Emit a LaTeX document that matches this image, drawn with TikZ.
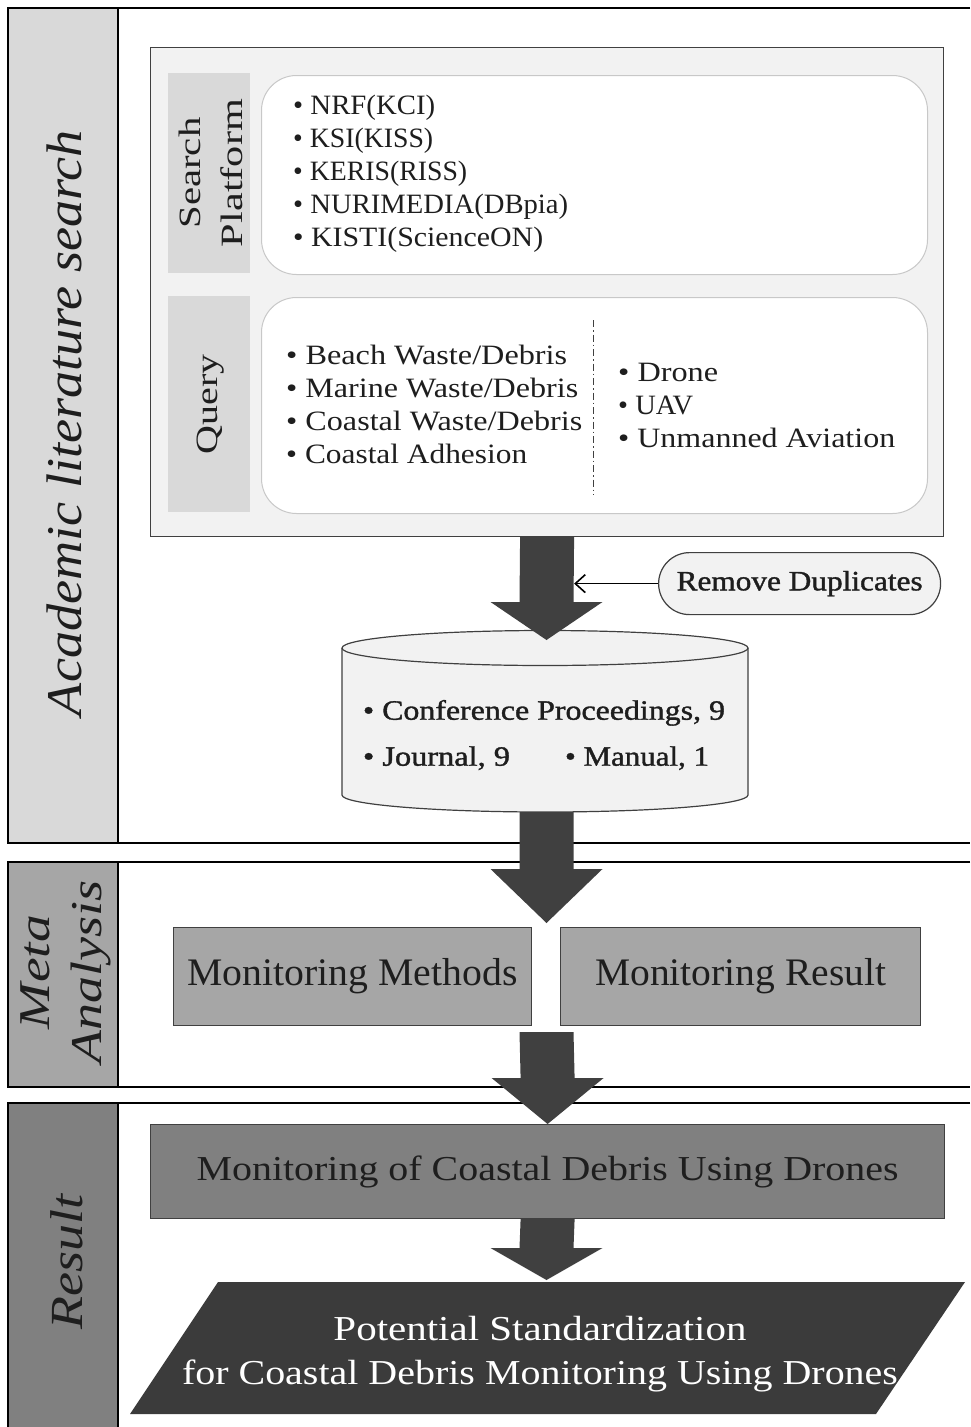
\documentclass[tikz,border=0pt]{standalone}
\usepackage{fontspec}
\setmainfont{Liberation Serif}
\newfontfamily\semib[FakeBold=1.2]{Liberation Serif}
\usepackage{graphicx}
\usetikzlibrary{arrows.meta,calc}
\definecolor{band1}{HTML}{D9D9D9}
\definecolor{band2}{HTML}{A6A6A6}
\definecolor{band3}{HTML}{808080}
\definecolor{paleg}{HTML}{F2F2F2}
\definecolor{edgeg}{HTML}{404040}
\definecolor{arrowg}{HTML}{404040}
\definecolor{pardark}{HTML}{3B3B3B}
\definecolor{roundedge}{HTML}{C8C8C8}
\definecolor{txt}{HTML}{1E1E1E}
\newcommand\fw[2]{\resizebox{#1pt}{\height}{#2}}
\newcommand\bigarrow[3]{\fill[arrowg] ($(#1)+(-27,0)$) -- ($(#1)+(27,0)$) -- ($(#2)+(27,-#3)$) -- ($(#2)+(56,-#3)$) -- (#2) -- ($(#2)+(-56,-#3)$) -- ($(#2)+(-27,-#3)$) -- cycle;}
\begin{document}
\begin{tikzpicture}[x=1pt,y=-1pt,
  every node/.style={text=txt},
  frame/.style={line width=2.6pt, draw=black},
  outerbox/.style={draw=edgeg, line width=1.2pt, fill=paleg, inner sep=0pt, anchor=north west},
  labbox/.style={fill=band1, inner sep=0pt, anchor=north west},
  rbox/.style={draw=roundedge, line width=1pt, fill=white, rounded corners=35pt, inner sep=0pt, anchor=north west},
  listtxt/.style={font=\fontsize{28}{33}\selectfont, align=left, inner sep=0pt, anchor=west},
  mbox/.style={draw=edgeg, line width=1.2pt, inner sep=0pt, anchor=north west, font=\fontsize{39}{42}\selectfont},
  seclab/.style={rotate=90, align=center, inner sep=0pt}
]
\useasboundingbox (0,0) rectangle (970,1427);
\fill[white] (0,0) rectangle (970,1427);

% section bands and frames
\fill[band1] (8,8) rectangle (118,843);
\fill[band2] (8,862) rectangle (118,1087);
\fill[band3] (8,1103) rectangle (118,1427);
\draw[frame] (970,8) -- (8,8) -- (8,843) -- (970,843);
\draw[frame] (118,8) -- (118,843);
\draw[frame] (970,862) -- (8,862) -- (8,1087) -- (970,1087);
\draw[frame] (118,862) -- (118,1087);
\draw[frame] (970,1103) -- (8,1103) -- (8,1432);
\draw[frame] (118,1103) -- (118,1432);

\node[seclab, font=\itshape\fontsize{50}{54}\selectfont] (lab1) at (64,423) {\fw{586}{Academic literature search}};
\node[seclab, font=\itshape\fontsize{44}{52}\selectfont] (lab2) at (66,972) {\fw{114}{Meta}\\\fw{183}{Analysis}};
\node[seclab, font=\itshape\fontsize{46}{50}\selectfont] (lab3) at (67,1262) {\fw{135}{Result}};

% search block
\node[outerbox, minimum width=793pt, minimum height=489pt] (search) at (150,47) {};
\node[labbox, minimum width=82pt, minimum height=200pt] (splab) at (168,73) {};
\node[labbox, minimum width=82pt, minimum height=216pt] (qlab) at (168,296) {};
\node[rbox, minimum width=666pt, minimum height=199pt] (spbox) at (261,75) {};
\node[rbox, minimum width=666pt, minimum height=216pt] (qbox) at (261,297) {};

\node[seclab, font=\fontsize{31}{42}\selectfont] (sptext) at (211,173) {\fw{111}{Search}\\\fw{148}{Platform}};
\node[seclab, font=\fontsize{31}{42}\selectfont] (qtext) at (211,404) {\fw{100}{Query}};

\node[listtxt] (splist) at (293,174) {\fw{142}{• NRF(KCI)}\\\fw{140}{• KSI(KISS)}\\\fw{174}{• KERIS(RISS)}\\\fw{275}{• NURIMEDIA(DBpia)}\\\fw{250}{• KISTI(ScienceON)}};
\node[listtxt] (qlist1) at (286,404) {\fw{281}{• Beach Waste/Debris}\\\fw{292}{• Marine Waste/Debris}\\\fw{296}{• Coastal Waste/Debris}\\\fw{241}{• Coastal Adhesion}};
\node[listtxt] (qlist2) at (618,405) {\fw{100}{• Drone}\\\fw{75}{• UAV}\\\fw{277}{• Unmanned Aviation}};
\coordinate (d1) at (593,320);
\coordinate (d2) at (593,495);
\draw[edgeg, line width=1pt, dash pattern=on 7pt off 3pt on 1.5pt off 3pt] (d1) -- (d2);

% database cylinder
\filldraw[fill=paleg, draw=edgeg, line width=1.2pt] (342,648) -- (342,795)
  arc[start angle=180, end angle=360, x radius=203pt, y radius=17pt] -- (748,648)
  arc[start angle=0, end angle=180, x radius=203pt, y radius=17.5pt] -- cycle;
\draw[edgeg, line width=1.2pt] (748,648) arc[start angle=0, end angle=-180, x radius=203pt, y radius=17.5pt];
\coordinate (cyltop) at (546.5,640);
\coordinate (cylbot) at (546.5,812);
\node[align=left, inner sep=0pt, font=\semib\fontsize{28}{46}\selectfont] (db) at (544,735)
  {\fw{362}{• Conference Proceedings, 9}\\\makebox[362pt][l]{\fw{147}{• Journal, 9}\hspace{55pt}\fw{144}{• Manual, 1}}};

% remove duplicates
\node[draw=edgeg, fill=paleg, line width=1.2pt, rounded corners=31pt, minimum width=282pt, minimum height=62pt, inner sep=0pt, anchor=north west, font=\semib\fontsize{28}{30}\selectfont] (rd) at (658,552) {\fw{246}{Remove Duplicates}};

% meta analysis boxes
\node[mbox, fill=band2, minimum width=358pt, minimum height=98pt] (mm) at (173,927) {\fw{330}{Monitoring Methods}};
\node[mbox, fill=band2, minimum width=360pt, minimum height=98pt] (mr) at (560,927) {\fw{291}{Monitoring Result}};
\coordinate (t2) at (546.5,923);
\coordinate (s3) at (546.5,1032);

% result
\node[mbox, fill=band3, font=\fontsize{35}{38}\selectfont, minimum width=794pt, minimum height=94pt] (mc) at (150,1124) {\fw{702}{Monitoring of Coastal Debris Using Drones}};
\coordinate (p1) at (218,1282);
\coordinate (p2) at (965,1282);
\coordinate (p3) at (876,1414);
\coordinate (p4) at (130,1414);
\fill[pardark] (p1) -- (p2) -- (p3) -- (p4) -- cycle;
\coordinate (par) at (546.5,1280);
\node[text=white, align=center, inner sep=0pt, font=\fontsize{35}{44}\selectfont] (ptxt) at (540,1354)
  {\fw{413}{Potential Standardization}\\\fw{716}{for Coastal Debris Monitoring Using Drones}};

% big arrows
\bigarrow{search.south}{cyltop}{38}
\bigarrow{cylbot}{t2}{54}
\bigarrow{s3}{mc.north}{46}
\bigarrow{mc.south}{par}{32}

% remove duplicates connector
\coordinate (shaft1) at ($(search.south)+(27,0)$);
\draw[black, line width=1.6pt, -{Straight Barb[length=10pt, width=18pt]}] (rd.west) -- (rd.west -| shaft1);
\end{tikzpicture}
\end{document}
